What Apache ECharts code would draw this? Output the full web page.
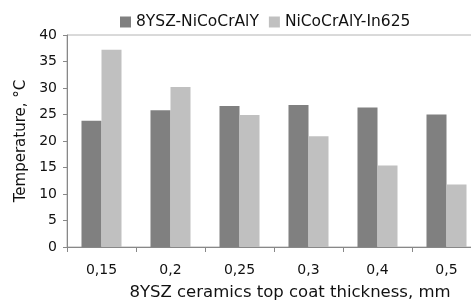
<!DOCTYPE html>
<html>
<head>
<meta charset="utf-8">
<script src="https://cdn.jsdelivr.net/npm/echarts@6/dist/echarts.min.js"></script>
<style>
  html, body { margin: 0; padding: 0; background: #fff; }
  #chart { width: 471px; height: 300px; }
</style>
</head>
<body>
<div id="chart"></div>
<script>
const thickness = ['0,15', '0,2', '0,25', '0,3', '0,4', '0,5']
const ysz = [23.8, 25.8, 26.6, 26.8, 26.3, 25.0]
const in625 = [37.2, 30.2, 24.9, 20.9, 15.4, 11.8]
const seriesNames = ['8YSZ-NiCoCrAlY', 'NiCoCrAlY-In625']

const font = 'DejaVu Sans, sans-serif'
const textColor = '#111'
const chart = echarts.init(document.getElementById('chart'))

chart.setOption({
  animation: false,
  textStyle: { fontFamily: font },
  legend: {
    data: seriesNames,
    icon: 'rect',
    left: 120,
    top: 14,
    padding: 0,
    itemWidth: 11,
    itemHeight: 11,
    itemGap: 10,
    textStyle: { fontSize: 15.5, color: textColor, fontFamily: font }
  },
  grid: {
    left: 67,
    right: -10,
    top: 35,
    bottom: 53,
    outerBoundsMode: 'none',
    containLabel: false,
    show: true,
    borderColor: '#b4b4b4',
    borderWidth: 1
  },
  xAxis: {
    type: 'category',
    data: thickness,
    name: '8YSZ ceramics top coat thickness, mm',
    nameLocation: 'middle',
    nameGap: 37,
    nameTextStyle: { fontSize: 16.5, color: textColor, fontFamily: font, padding: [0, 0, 0, 32] },
    axisLine: { lineStyle: { color: '#888' } },
    axisTick: { show: true, length: 5, lineStyle: { color: '#888' } },
    axisLabel: { fontSize: 14, color: textColor, margin: 16 }
  },
  yAxis: {
    type: 'value',
    min: 0,
    max: 40,
    interval: 5,
    name: 'Temperature, °C',
    nameLocation: 'middle',
    nameGap: 38,
    nameTextStyle: { fontSize: 15, color: textColor, fontFamily: font },
    axisLine: { show: true, lineStyle: { color: '#888' } },
    axisTick: { show: true, length: 4, lineStyle: { color: '#888' } },
    splitLine: { show: false },
    axisLabel: { fontSize: 14, color: textColor, margin: 10 }
  },
  series: [
    {
      name: seriesNames[0],
      type: 'bar',
      data: ysz,
      barGap: '0%',
      barCategoryGap: '42%',
      itemStyle: { color: '#808080' }
    },
    {
      name: seriesNames[1],
      type: 'bar',
      data: in625,
      itemStyle: { color: '#c0c0c0' }
    }
  ]
})
</script>
</body>
</html>
